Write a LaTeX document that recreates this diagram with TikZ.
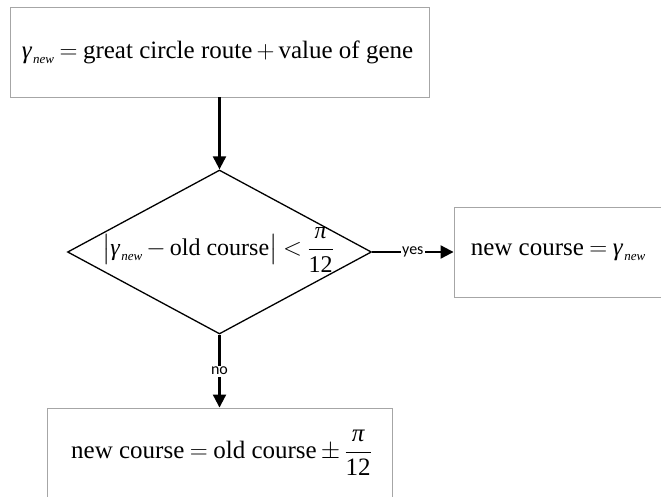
\documentclass[tikz,border=0pt]{standalone}
\usepackage{amsmath}
\usepackage{fontspec}
\setmainfont{Liberation Serif}
\newfontfamily\lblfont{Carlito}
\usetikzlibrary{arrows.meta,shapes.geometric}
\thickmuskip=4mu plus 2mu
\medmuskip=3mu plus 1mu
\newcommand{\gnew}{\text{\itshape γ\kern1.5pt\raisebox{-5pt}{\fontsize{13}{15}\selectfont new}}}
\newcommand{\pifrac}{\dfrac{\text{\itshape π}}{\text{12}}}

\begin{document}
\begin{tikzpicture}[x=1pt,y=-1pt,
    box/.style={draw=black!35,line width=0.9pt,inner sep=0pt,
      font=\fontsize{25}{30}\selectfont},
    flow/.style={-{Triangle[length=13pt,width=13pt]},line width=2.1pt},
    lbl/.style={fill=white,inner sep=1.5pt,font=\lblfont\fontsize{16}{18}\selectfont}]
  \useasboundingbox (0,0) rectangle (661,496);
  % boxes
  \node[box,minimum width=419pt,minimum height=90pt] (route) at (219.5,52)
    {$\gnew = \text{great circle route} + \text{value of gene}$\hspace*{4pt}};
  \node[draw,diamond,line width=1.3pt,inner sep=0pt,
    minimum width=304pt,minimum height=164pt] (check) at (219.5,252) {};
  \node[font=\fontsize{24}{29}\selectfont,inner sep=0pt] (test) at (218,250)
    {$\bigl|\gnew - \text{old course}\bigr| < \pifrac$};
  \node[box,minimum width=216pt,minimum height=90pt] (keep) at (562,252)
    {$\text{new course} = \gnew$\hspace*{8pt}};
  \node[box,minimum width=345pt,minimum height=90pt] (turn) at (219.5,453)
    {\hspace*{4pt}$\text{new course} = \text{old course} \pm \pifrac$};
  % connectors
  \draw[flow] (route.south) -- (check.north);
  \draw[flow] (check.east) -- node[lbl] (yes) {yes} (keep.west);
  \draw[flow] (check.south) -- node[lbl] (no) {no} (turn.north);
\end{tikzpicture}
\end{document}
